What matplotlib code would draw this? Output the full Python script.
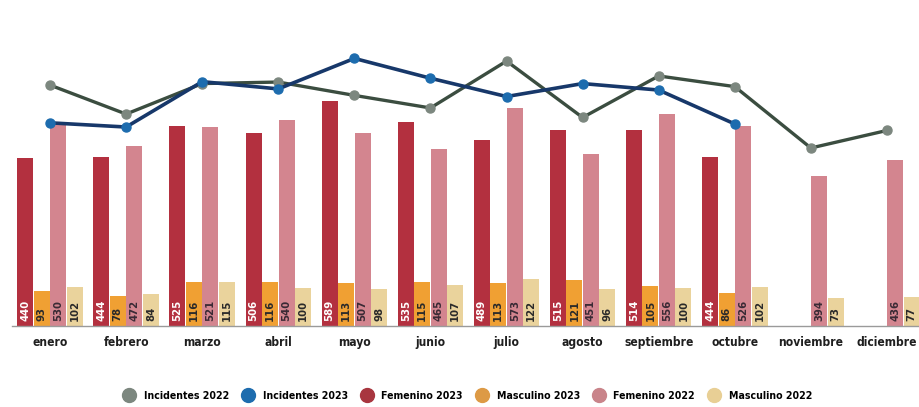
import numpy as np
import matplotlib
matplotlib.use("Agg")
import matplotlib.pyplot as plt
from matplotlib.lines import Line2D
from matplotlib import font_manager as fm

months = ['enero', 'febrero', 'marzo', 'abril', 'mayo', 'junio', 'julio',
          'agosto', 'septiembre', 'octubre', 'noviembre', 'diciembre']
fem_2023 = [440, 444, 525, 506, 589, 535, 489, 515, 514, 444, np.nan, np.nan]
masc_2023 = [93, 78, 116, 116, 113, 115, 113, 121, 105, 86, np.nan, np.nan]
fem_2022 = [530, 472, 521, 540, 507, 465, 573, 451, 556, 526, 394, 436]
masc_2022 = [102, 84, 115, 100, 98, 107, 122, 96, 100, 102, 73, 77]
inc_2022 = [632, 556, 636, 640, 605, 572, 695, 547, 656, 628, 467, 513]
inc_2023 = [533, 522, 641, 622, 702, 650, 602, 636, 619, 530, np.nan, np.nan]

C_F23 = '#b3303f'
C_M23 = '#f0a033'
C_F22 = '#d3858f'
C_M22 = '#ead39c'
C_L22 = '#3b4d40'
C_K22 = '#7c877f'
C_L23 = '#17386a'
C_K23 = '#1d6cae'

# pick a narrow font if one is installed
names = {f.name for f in fm.fontManager.ttflist}
cond_dejavu = any(f.name == 'DejaVu Sans' and f.stretch != 'normal'
                  for f in fm.fontManager.ttflist)
if 'Liberation Sans Narrow' in names:
    FAM, STRETCH, SCALE = ['Liberation Sans Narrow', 'DejaVu Sans'], 'normal', 1.0
elif cond_dejavu:
    FAM, STRETCH, SCALE = ['DejaVu Sans'], 'condensed', 0.9
else:
    FAM, STRETCH, SCALE = ['Roboto', 'DejaVu Sans'], 'normal', 0.85
plt.rcParams['font.family'] = FAM
plt.rcParams['font.stretch'] = STRETCH

W, H = 919, 407
fig = plt.figure(figsize=(W / 100, H / 100), dpi=100)
ax = fig.add_axes([12 / W, 81 / H, 913 / W, 324 / H])

x = np.arange(len(months))
w = 0.217
series = [
    (fem_2023, C_F23, -1.5, 'white', 'Femenino 2023'),
    (masc_2023, C_M23, -0.5, '#2a2a2a', 'Masculino 2023'),
    (fem_2022, C_F22, 0.5, '#3a2a35', 'Femenino 2022'),
    (masc_2022, C_M22, 1.5, '#2a2a2a', 'Masculino 2022'),
]
for vals, col, off, tcol, lab in series:
    xs = x + off * w
    ax.bar(xs, vals, width=w * 0.97, color=col, label=lab, zorder=2)
    for xi, v in zip(xs, vals):
        if np.isnan(v):
            continue
        ax.text(xi, 14, f'{int(v)}', rotation=90, ha='center', va='bottom',
                color=tcol, fontsize=9 * SCALE, fontweight='bold',
                fontstretch=STRETCH, zorder=3)

ax.plot(x, inc_2022, color=C_L22, lw=2.4, marker='o', ms=6.5,
        mfc=C_K22, mec=C_K22, zorder=4)
ax.plot(x, inc_2023, color=C_L23, lw=2.6, marker='o', ms=6.5,
        mfc=C_K23, mec=C_K23, zorder=5)

ax.set_xlim(-0.5, 11.5)
ax.set_ylim(0, 850)
for s in ['top', 'right', 'left']:
    ax.spines[s].set_visible(False)
ax.spines['bottom'].set_color('#9a9a9a')
ax.spines['bottom'].set_linewidth(1.0)
ax.set_yticks([])
ax.set_xticks(x)
ax.set_xticklabels(months, fontsize=9.6 * SCALE, fontweight='bold',
                   color='#1f1f1f', fontstretch=STRETCH)
ax.tick_params(axis='x', length=0, pad=7)

handles = [
    Line2D([], [], ls='', marker='o', ms=10, mfc=C_K22, mec=C_K22),
    Line2D([], [], ls='', marker='o', ms=10, mfc=C_K23, mec=C_K23),
    Line2D([], [], ls='', marker='o', ms=10, mfc='#a8363f', mec='#a8363f'),
    Line2D([], [], ls='', marker='o', ms=10, mfc='#dd9a45', mec='#dd9a45'),
    Line2D([], [], ls='', marker='o', ms=10, mfc='#c9848a', mec='#c9848a'),
    Line2D([], [], ls='', marker='o', ms=10, mfc='#e8cf95', mec='#e8cf95'),
]
labels = ['Incidentes 2022', 'Incidentes 2023', 'Femenino 2023',
          'Masculino 2023', 'Femenino 2022', 'Masculino 2022']
fig.legend(handles, labels, loc='center', bbox_to_anchor=(468 / W, 1 - 396 / H),
           ncol=6, frameon=False, handletextpad=0.9, handlelength=1.0,
           columnspacing=1.3,
           prop={'weight': 'bold', 'size': 8.4 * SCALE, 'stretch': STRETCH,
                 'family': FAM})

fig.savefig('out.png', dpi=100, facecolor='white')
